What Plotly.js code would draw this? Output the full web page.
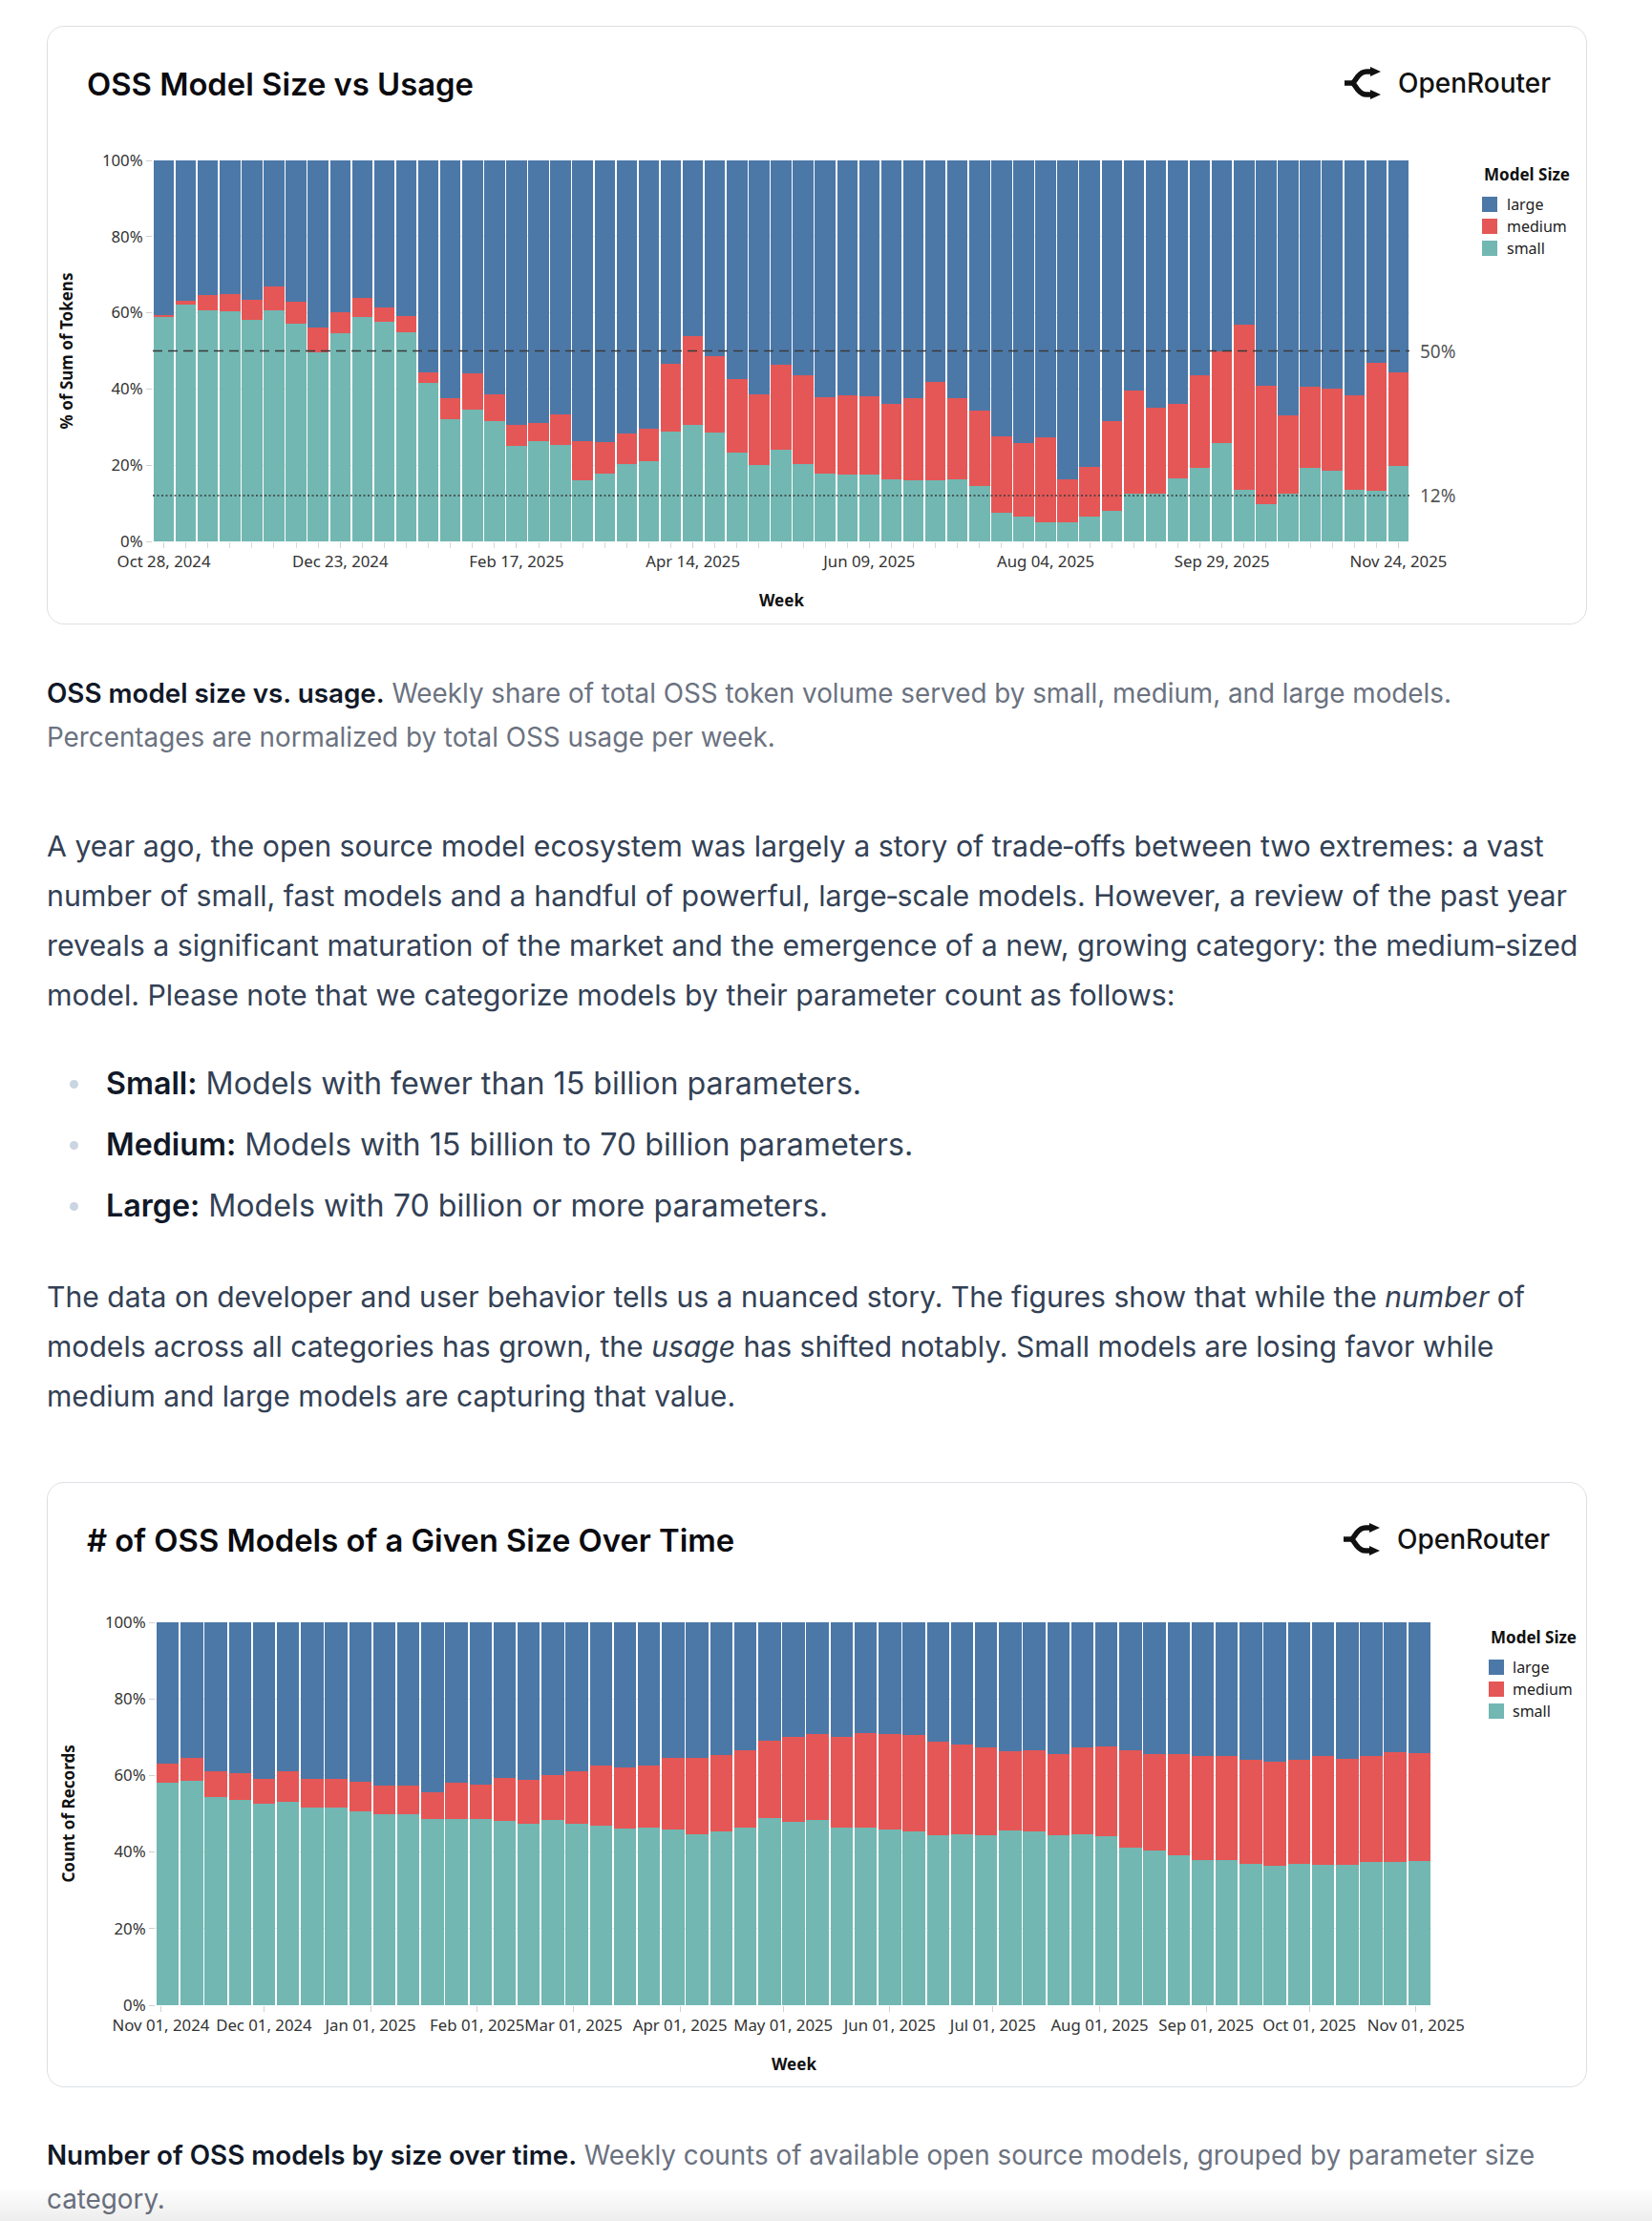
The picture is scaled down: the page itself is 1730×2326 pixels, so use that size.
<!DOCTYPE html>
<html>
<head>
<meta charset="utf-8">
<script src="https://cdn.plot.ly/plotly-3.0.1.min.js"></script>
<style>
  html, body { margin: 0; padding: 0; background: #ffffff; }
  body { width: 1730px; height: 2326px; position: relative; overflow: hidden; font-family: Inter, "Noto Sans", sans-serif; }
  .card { position: absolute; left: 49px; width: 1611px; border: 1.5px solid #dcdfe3; border-radius: 18px; background: #fff; }
  .ctitle { position: absolute; left: 41px; font-weight: 600; font-size: 32.8px; color: #0b0b0f; white-space: nowrap; line-height: 40px; }
  .logo { position: absolute; left: 1356px; height: 40px; display: flex; align-items: center; }
  .logo span { font-size: 28px; color: #111; margin-left: 14px; font-weight: 450; }
  .chart { position: absolute; left: 49px; width: 1681px; }
  .txt { position: absolute; left: 49px; white-space: nowrap; }
  .cap { font-size: 27.8px; line-height: 46px; color: #6b7280; }
  .cap b { color: #111827; font-weight: 600; }
  .para { font-size: 30.3px; line-height: 52px; color: #334155; }
  .bul { position: absolute; left: 111px; font-size: 32.2px; line-height: 64px; color: #334155; white-space: nowrap; }
  .bul b { color: #111827; font-weight: 600; }
  .dot { position: absolute; left: 73px; width: 9px; height: 9px; border-radius: 50%; background: #cbd5e1; }
  .fade { position: absolute; left: 0; top: 2290px; width: 1730px; height: 36px; background: linear-gradient(rgba(0,0,0,0), rgba(0,0,0,0.07)); }
</style>
</head>
<body>

<script>
// ---------- DATA: chart 1 (share of OSS tokens, % per week) ----------
const usageWeekStart = "2024-10-28";
const usageWeekCount = 57;
const usageSmall = [58.8,62.2,60.7,60.3,58.2,60.7,57.1,49.7,54.7,58.8,57.7,54.8,41.7,32.2,34.5,31.5,25.1,26.3,25.4,16.0,17.7,20.2,21.1,28.7,30.6,28.5,23.4,20.0,24.1,20.3,17.7,17.5,17.5,16.2,16.1,16.0,16.2,14.5,7.6,6.6,5.1,4.9,6.4,8.0,12.6,12.5,16.5,19.2,25.9,13.6,9.8,12.6,19.2,18.5,13.6,13.2,19.9];
const usageMedium = [0.7,0.9,3.9,4.5,5.1,6.1,5.7,6.5,5.5,5.1,3.8,4.4,2.7,5.5,9.7,7.2,5.4,4.8,8.0,10.4,8.4,8.0,8.6,18.0,23.2,20.0,19.3,18.7,22.3,23.3,20.1,20.8,20.6,20.0,21.4,25.9,21.5,19.9,20.0,19.1,22.2,11.5,13.1,23.6,27.1,22.7,19.7,24.5,24.1,43.3,31.0,20.5,21.4,21.7,24.7,33.7,24.4];
const usageLarge = [40.5,36.9,35.4,35.2,36.7,33.2,37.2,43.8,39.8,36.1,38.5,40.8,55.6,62.3,55.8,61.3,69.5,68.9,66.6,73.6,73.9,71.8,70.3,53.3,46.2,51.5,57.3,61.3,53.6,56.4,62.2,61.7,61.9,63.8,62.5,58.1,62.3,65.6,72.4,74.3,72.7,83.6,80.5,68.4,60.3,64.8,63.8,56.3,50.0,43.1,59.2,66.9,59.4,59.8,61.7,53.1,55.7];
const refLines = [50, 12];
const refLabels = ["50%", "12%"];

// ---------- DATA: chart 2 (share of OSS models, % per week) ----------
const countWeekStart = "2024-11-03";
const countWeekCount = 53;
const countSmall = [58.2,58.5,54.4,53.5,52.5,53.2,51.6,51.6,50.7,50.0,50.0,48.6,48.7,48.7,48.1,47.5,48.3,47.3,46.9,46.1,46.3,45.8,44.7,45.3,46.5,48.8,47.8,48.3,46.5,46.4,45.9,45.3,44.4,44.7,44.3,45.6,45.4,44.3,44.6,44.2,41.2,40.4,39.2,37.9,37.8,36.9,36.4,36.8,36.7,36.6,37.4,37.4,37.7];
const countMedium = [4.9,6.1,6.7,7.0,6.7,7.8,7.6,7.6,7.6,7.3,7.3,7.1,9.5,9.0,11.2,11.3,11.8,13.7,15.7,16.1,16.3,18.7,19.9,20.0,20.1,20.3,22.3,22.5,23.7,24.6,24.8,25.2,24.5,23.3,23.0,20.8,21.2,21.2,22.7,23.5,25.4,25.2,26.5,27.2,27.3,27.2,27.2,27.3,28.4,27.7,27.8,28.7,28.2];
const countLarge = [36.9,35.4,38.9,39.5,40.8,39.0,40.8,40.8,41.7,42.7,42.7,44.3,41.8,42.3,40.7,41.2,39.9,39.0,37.4,37.8,37.4,35.5,35.4,34.7,33.4,30.9,29.9,29.2,29.8,29.0,29.3,29.5,31.1,32.0,32.7,33.6,33.4,34.5,32.7,32.3,33.4,34.4,34.3,34.9,34.9,35.9,36.4,35.9,34.9,35.7,34.8,33.9,34.1];

const seriesNames = ["small", "medium", "large"];
const seriesColors = ["#72b7b2", "#e45756", "#4c78a8"];
const legendTitle = "Model Size";
</script>

<div class="card" style="top:27px; height:625px;">
  <div class="ctitle" style="top:40px;">OSS Model Size vs Usage</div>
  <div class="logo" style="top:39px;">
    <svg width="44" height="34" viewBox="0 0 44 34"><path d="M30 5 H25 Q20 5 16 10 L11 17 L16 24 Q20 29 25 29 H30" fill="none" stroke="#111" stroke-width="5.5"/><path d="M29 0 L40 5 L29 10 Z M29 24 L40 29 L29 34 Z" fill="#111"/><path d="M2 17 H12" stroke="#111" stroke-width="5.5"/></svg>
    <span>OpenRouter</span>
  </div>
</div>
<div id="chart1" class="chart" style="top:27px; height:627px;"></div>

<div class="txt cap" style="top:703px;"><b>OSS model size vs. usage.</b> Weekly share of total OSS token volume served by small, medium, and large models.<br>Percentages are normalized by total OSS usage per week.</div>

<div class="txt para" style="top:860px;">A year ago, the open source model ecosystem was largely a story of trade&#8209;offs between two extremes: a vast<br>number of small, fast models and a handful of powerful, large&#8209;scale models. However, a review of the past year<br>reveals a significant maturation of the market and the emergence of a new, growing category: the medium&#8209;sized<br>model. Please note that we categorize models by their parameter count as follows:</div>

<div class="dot" style="top:1131px;"></div>
<div class="bul" style="top:1103px;"><b>Small:</b> Models with fewer than 15 billion parameters.</div>
<div class="dot" style="top:1195px;"></div>
<div class="bul" style="top:1167px;"><b>Medium:</b> Models with 15 billion to 70 billion parameters.</div>
<div class="dot" style="top:1259px;"></div>
<div class="bul" style="top:1231px;"><b>Large:</b> Models with 70 billion or more parameters.</div>

<div class="txt para" style="top:1332px; font-size:30.1px;">The data on developer and user behavior tells us a nuanced story. The figures show that while the <i>number</i> of<br>models across all categories has grown, the <i>usage</i> has shifted notably. Small models are losing favor while<br>medium and large models are capturing that value.</div>

<div class="card" style="top:1552px; height:632px;">
  <div class="ctitle" style="top:40px;"># of OSS Models of a Given Size Over Time</div>
  <div class="logo" style="top:39px; left:1355px;">
    <svg width="44" height="34" viewBox="0 0 44 34"><path d="M30 5 H25 Q20 5 16 10 L11 17 L16 24 Q20 29 25 29 H30" fill="none" stroke="#111" stroke-width="5.5"/><path d="M29 0 L40 5 L29 10 Z M29 24 L40 29 L29 34 Z" fill="#111"/><path d="M2 17 H12" stroke="#111" stroke-width="5.5"/></svg>
    <span>OpenRouter</span>
  </div>
</div>
<div id="chart2" class="chart" style="top:1552px; height:634px;"></div>

<div class="txt cap" style="top:2234px;"><b>Number of OSS models by size over time.</b> Weekly counts of available open source models, grouped by parameter size<br>category.</div>

<div class="fade"></div>

<script>
const DAY = 86400000;
function weekDates(start, n) {
  const t0 = new Date(start + "T00:00:00Z").getTime();
  const out = [];
  for (let i = 0; i < n; i++) out.push(new Date(t0 + i * 7 * DAY).toISOString().slice(0, 10));
  return out;
}
function shift(dateStr, days) {
  return new Date(new Date(dateStr + "T00:00:00Z").getTime() + days * DAY).toISOString().replace("T", " ").slice(0, 19);
}

const FONT = "Noto Sans, sans-serif";
const tickFont = { family: FONT, size: 16.8, color: "#333" };
const titleFont = { family: FONT, size: 17, color: "#111" };

function makeTraces(x, series) {
  return series.map((ys, i) => ({
    type: "bar", x: x, y: ys, name: seriesNames[i],
    marker: { color: seriesColors[i], line: { width: 0 } },
    hoverinfo: "skip", showlegend: false
  }));
}

// custom legend (title + square swatches), positioned in pixels relative to the chart div
function legendParts(m, w, h, titleX, titleY, rowY0, rowStep, textX) {
  const pw = w - m.l - m.r, ph = h - m.t - m.b;
  const px = (x) => (x - m.l) / pw;
  const py = (y) => 1 - (y - m.t) / ph;
  const shapes = [], annos = [];
  annos.push({ xref: "paper", yref: "paper", x: px(titleX), y: py(titleY), xanchor: "left", yanchor: "middle",
    showarrow: false, text: "<b>" + legendTitle + "</b>", font: titleFont });
  const order = [2, 1, 0];
  order.forEach((si, k) => {
    const cy = rowY0 + k * rowStep;
    shapes.push({ type: "rect", xref: "paper", yref: "paper", xsizemode: "pixel", ysizemode: "pixel",
      xanchor: px(titleX), yanchor: py(cy), x0: 0, x1: 16, y0: -8, y1: 8,
      fillcolor: seriesColors[si], line: { width: 0 } });
    annos.push({ xref: "paper", yref: "paper", x: px(textX), y: py(cy), xanchor: "left", yanchor: "middle",
      showarrow: false, text: seriesNames[si], font: { family: FONT, size: 16, color: "#222" } });
  });
  return { shapes, annos };
}

function baseLayout(m) {
  return {
    barmode: "stack", bargap: 0.07,
    margin: m,
    paper_bgcolor: "rgba(0,0,0,0)", plot_bgcolor: "rgba(0,0,0,0)",
    font: { family: FONT, color: "#222" },
    showlegend: false,
    yaxis: {
      range: [0, 100], dtick: 20, ticksuffix: "%", ticks: "outside", ticklen: 6, tickcolor: "#d0d0d0",
      showgrid: true, gridcolor: "#e8e8e8", zeroline: false, showline: false, tickfont: tickFont, fixedrange: true
    }
  };
}

// ---------- Chart 1 ----------
const W = 1681;
const m1 = { l: 111, r: 254, t: 141, b: 87 };
const H1 = 627;
const x1 = weekDates(usageWeekStart, usageWeekCount);
const layout1 = baseLayout(m1);
layout1.xaxis = {
  type: "date",
  range: [shift(x1[0], -3.5), shift(x1[x1.length - 1], 3.5)],
  tick0: x1[0], dtick: 8 * 7 * DAY, tickformat: "%b %d, %Y", tickangle: 0,
  ticks: "outside", ticklen: 6, tickcolor: "#d0d0d0", showgrid: false, zeroline: false, showline: false,
  tickfont: tickFont,
  minor: { tick0: x1[0], dtick: 7 * DAY, ticks: "outside", ticklen: 6, tickcolor: "#d9d9d9", showgrid: false }
};
const leg1 = legendParts(m1, W, H1, 1503, 155, 187, 23, 1527);
layout1.shapes = refLines.map((v, i) => ({
  type: "line", xref: "paper", yref: "y", x0: 0, x1: 1, y0: v, y1: v,
  line: { color: "#3b3b3b", width: 1.5, dash: i === 0 ? "10px,6px" : "2px,2.5px" }
})).concat(leg1.shapes);
layout1.annotations = refLines.map((v, i) => ({
  xref: "paper", yref: "y", x: 1.0068, y: v, xanchor: "left", yanchor: "middle", showarrow: false,
  text: refLabels[i], font: { family: FONT, size: 19, color: "#555" }
})).concat([
  { xref: "paper", yref: "paper", x: -0.0684, y: 0.5, textangle: -90, showarrow: false, xanchor: "center", yanchor: "middle",
    text: "<b>% of Sum of Tokens</b>", font: titleFont },
  { xref: "paper", yref: "paper", x: 0.5, y: -0.155, showarrow: false, xanchor: "center", yanchor: "middle",
    text: "<b>Week</b>", font: titleFont }
]).concat(leg1.annos);
Plotly.newPlot("chart1", makeTraces(x1, [usageSmall, usageMedium, usageLarge]), layout1, { staticPlot: true, displayModeBar: false });

// ---------- Chart 2 ----------
const m2 = { l: 114, r: 231, t: 147, b: 86 };
const H2 = 634;
const x2 = weekDates(countWeekStart, countWeekCount);
const layout2 = baseLayout(m2);
layout2.xaxis = {
  type: "date",
  range: [shift(x2[0], -3.5), shift(x2[x2.length - 1], 3.5)],
  tick0: "2024-11-01", dtick: "M1", tickformat: "%b %d, %Y", tickangle: 0,
  ticks: "outside", ticklen: 6, tickcolor: "#d0d0d0", showgrid: false, zeroline: false, showline: false,
  tickfont: tickFont
};
const leg2 = legendParts(m2, W, H2, 1510, 162, 194, 23, 1533);
layout2.shapes = leg2.shapes;
layout2.annotations = [
  { xref: "paper", yref: "paper", x: -0.0688, y: 0.5, textangle: -90, showarrow: false, xanchor: "center", yanchor: "middle",
    text: "<b>Count of Records</b>", font: titleFont },
  { xref: "paper", yref: "paper", x: 0.5, y: -0.154, showarrow: false, xanchor: "center", yanchor: "middle",
    text: "<b>Week</b>", font: titleFont }
].concat(leg2.annos);
Plotly.newPlot("chart2", makeTraces(x2, [countSmall, countMedium, countLarge]), layout2, { staticPlot: true, displayModeBar: false });
</script>
</body>
</html>
